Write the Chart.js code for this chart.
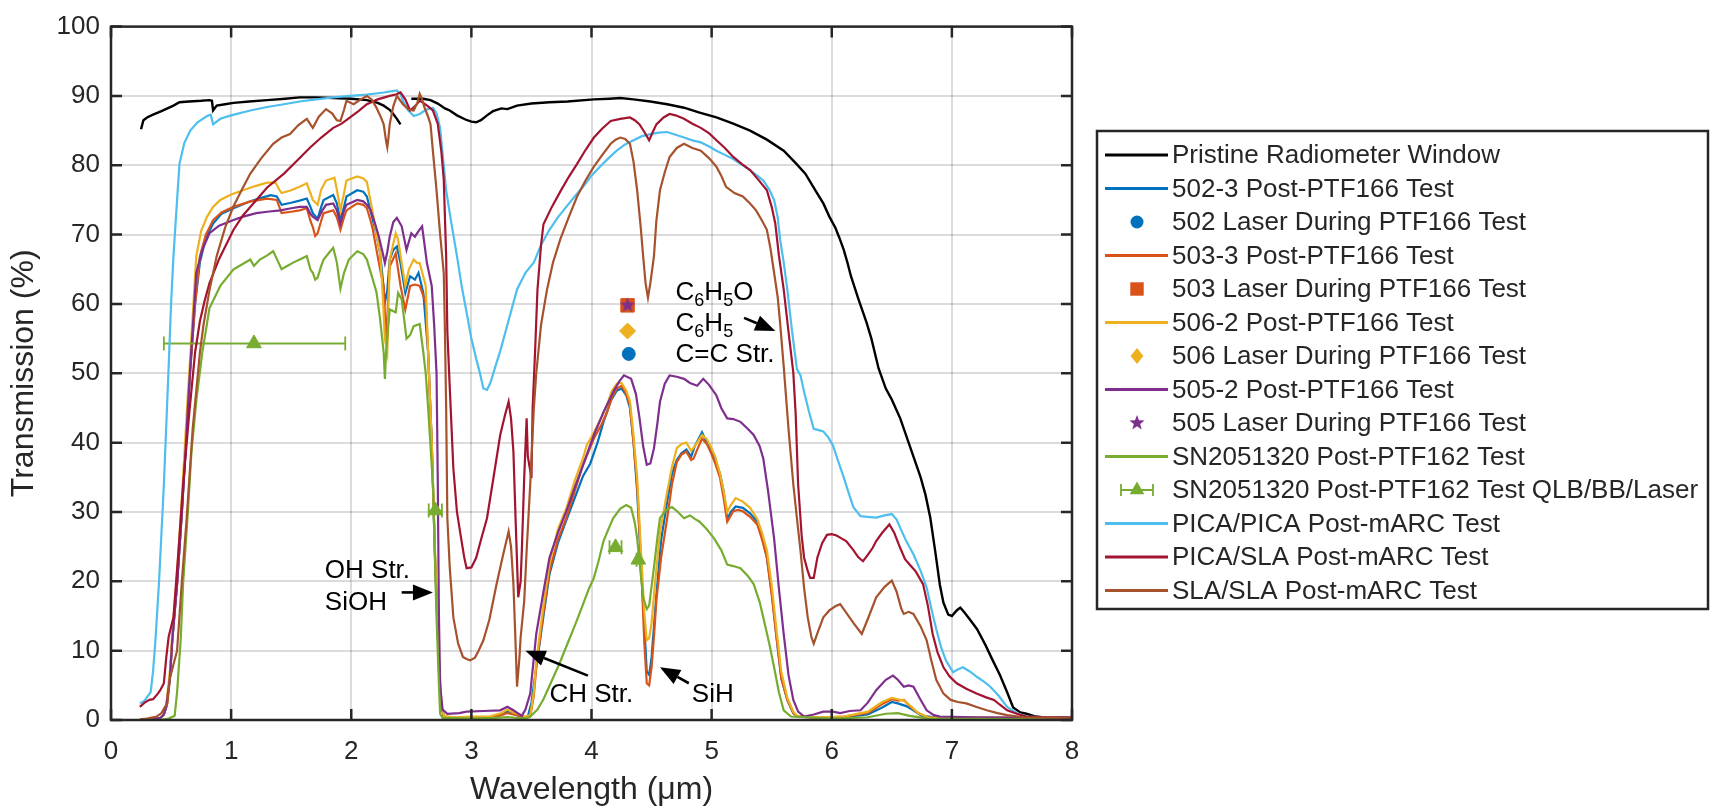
<!DOCTYPE html>
<html><head><meta charset="utf-8">
<script src="https://cdn.jsdelivr.net/npm/chart.js@4.4.1/dist/chart.umd.min.js"></script>
<style>html,body{margin:0;padding:0;background:#fff;overflow:hidden}#wrap{width:1711px;height:812px;position:relative}</style>
</head><body><div id="wrap"><canvas id="c" width="1711" height="812"></canvas></div>
<script>
// ---------- data (wavelength µm, transmission %) ----------
const xTicks = [0,1,2,3,4,5,6,7,8];
const yTicks = [0,10,20,30,40,50,60,70,80,90,100];

const pristineWindow = [[0.25,85.2],[0.27,86.5],[0.30,86.9],[0.35,87.3],[0.42,87.8],[0.52,88.6],[0.57,89.1],[0.65,89.2],[0.75,89.3],[0.82,89.4],[0.84,89.3],[0.85,87.9],[0.88,88.6],[0.95,88.8],[1.02,89.0],[1.15,89.2],[1.30,89.4],[1.45,89.6],[1.57,89.8],[1.70,89.8],[1.85,89.7],[2.0,89.6],[2.13,89.4],[2.22,89.0],[2.27,88.6],[2.32,88.0],[2.35,87.4],[2.38,86.7],[2.41,85.9],[2.45,null],
[2.50,89.6],[2.60,89.6],[2.66,89.4],[2.72,88.9],[2.78,88.2],[2.82,87.9],[2.88,87.2],[2.95,86.6],[3.00,86.3],[3.04,86.2],[3.08,86.5],[3.13,87.2],[3.18,87.8],[3.25,88.2],[3.30,88.1],[3.38,88.6],[3.50,88.9],[3.65,89.1],[3.80,89.2],[4.02,89.5],[4.15,89.6],[4.24,89.7],[4.35,89.5],[4.49,89.2],[4.63,88.8],[4.77,88.3],[4.90,87.6],[5.04,86.9],[5.18,86.0],[5.32,85.0],[5.46,83.7],[5.60,82.1],[5.70,80.3],[5.78,78.8],[5.87,76.2],[5.93,74.5],[5.98,72.6],[6.03,71.0],[6.06,69.7],[6.10,67.8],[6.13,66.0],[6.16,64.0],[6.22,60.8],[6.29,57.3],[6.33,55.0],[6.39,50.7],[6.45,47.8],[6.50,46.2],[6.57,43.5],[6.65,39.5],[6.74,35.0],[6.78,32.5],[6.82,29.2],[6.86,24.5],[6.90,19.5],[6.93,16.9],[6.97,15.2],[7.00,15.0],[7.04,15.8],[7.07,16.2],[7.10,15.6],[7.15,14.5],[7.21,13.1],[7.28,10.8],[7.34,8.6],[7.40,6.5],[7.46,4.0],[7.51,1.8],[7.57,1.1],[7.62,0.9],[7.70,0.5],[7.8,0.3],[8.0,0.3]];

const t502_3 = [[0.24,0],[0.35,0.1],[0.41,0.3],[0.44,0.8],[0.46,1.9],[0.49,6],[0.51,11.5],[0.55,19.6],[0.59,30],[0.62,38.7],[0.64,45],[0.66,50.6],[0.70,60],[0.74,66],[0.79,69.5],[0.85,71.6],[0.92,73],[1.02,73.8],[1.16,74.8],[1.25,75.3],[1.33,75.7],[1.38,75.5],[1.42,74.3],[1.50,74.6],[1.57,74.9],[1.63,75.2],[1.66,74.0],[1.68,73.1],[1.72,72.3],[1.75,74.0],[1.77,75.0],[1.85,75.7],[1.88,74.5],[1.91,72.1],[1.94,74.0],[1.96,75.5],[2.05,76.4],[2.10,76.2],[2.13,75.5],[2.18,72.1],[2.21,70.0],[2.24,67.3],[2.26,64.0],[2.28,60.2],[2.30,62.0],[2.32,66.4],[2.35,67.8],[2.38,68.3],[2.41,65.9],[2.45,61.6],[2.49,64.0],[2.53,63.5],[2.56,64.5],[2.60,61.6],[2.64,53.0],[2.67,40],[2.70,22],[2.73,8],[2.75,2],[2.77,0.5],[2.85,0.3],[3.0,0.4],[3.15,0.4],[3.25,0.8],[3.30,1.2],[3.35,0.9],[3.42,0.4],[3.47,0.5],[3.50,2.5],[3.54,7.6],[3.60,15.0],[3.65,21.0],[3.72,25.5],[3.79,28.8],[3.86,32.0],[3.93,35.2],[3.99,37.0],[4.05,40.0],[4.10,43.0],[4.16,46.0],[4.21,47.5],[4.25,47.8],[4.29,46.8],[4.32,45.0],[4.35,40.0],[4.38,33.0],[4.42,20.0],[4.46,7.0],[4.48,6.5],[4.50,9.0],[4.54,18.0],[4.58,26.0],[4.63,31.5],[4.67,35.5],[4.71,37.5],[4.75,38.5],[4.79,39.0],[4.83,38.0],[4.86,39.5],[4.92,41.5],[4.96,40.0],[4.99,39.2],[5.03,37.5],[5.07,35.5],[5.10,33.0],[5.13,29.0],[5.16,30.0],[5.20,30.8],[5.26,30.6],[5.32,29.8],[5.38,28.6],[5.43,26.0],[5.46,23.4],[5.50,18.5],[5.54,12.0],[5.58,6.0],[5.63,2.9],[5.68,1.0],[5.71,0.5],[5.9,0.3],[6.1,0.4],[6.3,0.8],[6.42,1.8],[6.50,2.6],[6.55,2.4],[6.62,2.0],[6.67,1.5],[6.75,0.6],[6.9,0.3],[8.0,0.2]];

const t503_3 = [[0.24,0],[0.35,0.1],[0.41,0.3],[0.44,0.8],[0.46,1.9],[0.49,6],[0.51,11.5],[0.55,19.6],[0.59,30],[0.62,38.7],[0.64,45],[0.66,50.6],[0.70,60],[0.74,66.9],[0.79,70],[0.85,72.1],[0.92,73.2],[1.02,74.0],[1.16,74.8],[1.30,75.2],[1.38,75.0],[1.42,73.1],[1.50,73.3],[1.57,73.5],[1.63,73.8],[1.66,72.0],[1.68,71.1],[1.70,69.8],[1.72,70.2],[1.75,72.0],[1.77,73.1],[1.85,73.5],[1.88,72.5],[1.91,70.7],[1.94,72.5],[1.96,73.5],[2.05,74.5],[2.10,74.3],[2.13,73.8],[2.16,72.1],[2.18,70.7],[2.21,67.8],[2.24,65.0],[2.27,62.6],[2.29,54.4],[2.30,58.0],[2.32,65.4],[2.37,67.3],[2.41,62.6],[2.45,59.2],[2.49,62.6],[2.53,62.8],[2.57,62.6],[2.62,60.2],[2.64,53.0],[2.67,40],[2.70,22],[2.73,8],[2.75,2],[2.77,0.5],[2.85,0.3],[3.0,0.4],[3.15,0.3],[3.25,0.7],[3.30,1.0],[3.35,0.8],[3.45,0.4],[3.49,0.5],[3.52,3.5],[3.54,7.6],[3.60,15.5],[3.65,21.5],[3.72,26.0],[3.79,29.1],[3.86,33.0],[3.93,36.8],[4.02,40.6],[4.08,42.5],[4.13,44.4],[4.17,46.5],[4.21,47.8],[4.25,48.2],[4.29,47.0],[4.32,45.4],[4.35,40.0],[4.38,33.9],[4.40,27.0],[4.42,19.6],[4.44,11.0],[4.46,5.3],[4.48,5.0],[4.50,7.6],[4.52,12.0],[4.54,17.2],[4.58,23.5],[4.63,29.1],[4.67,34.0],[4.71,37.2],[4.75,38.3],[4.79,38.7],[4.83,37.5],[4.85,37.7],[4.88,39.0],[4.92,40.6],[4.96,39.8],[4.99,38.7],[5.03,37.0],[5.07,34.9],[5.10,32.0],[5.13,28.6],[5.16,29.5],[5.18,30.1],[5.22,30.3],[5.26,30.1],[5.32,29.3],[5.38,28.2],[5.42,26.0],[5.46,23.4],[5.50,18.0],[5.54,11.9],[5.58,6.0],[5.63,2.9],[5.68,1.0],[5.71,0.5],[5.9,0.3],[6.1,0.5],[6.3,1.0],[6.42,2.3],[6.50,3.0],[6.55,2.8],[6.60,2.9],[6.65,2.0],[6.72,1.0],[6.8,0.4],[8.0,0.2]];

const t506_2 = [[0.24,0],[0.35,0.1],[0.41,0.3],[0.44,0.9],[0.46,2.2],[0.49,7],[0.51,12.5],[0.55,21],[0.59,32],[0.62,41],[0.64,47],[0.66,52.5],[0.71,66.9],[0.75,70.5],[0.80,72.6],[0.85,74.0],[0.91,75.0],[1.00,75.8],[1.10,76.4],[1.20,77.0],[1.30,77.5],[1.37,77.5],[1.40,76.5],[1.42,76.0],[1.50,76.4],[1.57,76.9],[1.63,77.4],[1.66,76.0],[1.68,75.0],[1.72,74.3],[1.75,76.5],[1.79,77.8],[1.86,78.2],[1.88,76.5],[1.91,73.5],[1.94,76.0],[1.96,77.8],[2.05,78.4],[2.10,78.1],[2.13,77.6],[2.18,73.1],[2.21,70.0],[2.24,67.4],[2.26,62.0],[2.28,54.9],[2.30,53.0],[2.32,66.4],[2.37,70.2],[2.39,69.3],[2.42,65.9],[2.45,62.6],[2.48,65.0],[2.52,66.4],[2.55,65.9],[2.57,65.9],[2.62,62.6],[2.64,53.0],[2.67,40],[2.70,23],[2.73,9],[2.75,2.5],[2.77,0.6],[2.85,0.4],[3.0,0.5],[3.15,0.5],[3.25,1.0],[3.30,1.5],[3.35,1.1],[3.45,0.5],[3.49,0.7],[3.52,4.0],[3.54,8.5],[3.60,16.5],[3.65,22.5],[3.72,27.5],[3.79,30.5],[3.86,34.5],[3.93,37.8],[3.96,39.6],[4.02,41.5],[4.08,43.5],[4.13,45.5],[4.17,47.5],[4.21,48.5],[4.25,48.6],[4.29,47.5],[4.32,46.0],[4.35,41.0],[4.38,35.0],[4.41,25.0],[4.44,15.5],[4.46,11.5],[4.48,11.8],[4.50,14.0],[4.53,20.0],[4.57,27.0],[4.62,32.0],[4.67,36.5],[4.71,39.2],[4.75,39.8],[4.79,40.0],[4.83,38.8],[4.86,39.5],[4.92,41.1],[4.96,40.5],[4.99,39.5],[5.03,38.0],[5.07,35.5],[5.10,33.0],[5.13,30.0],[5.16,31.0],[5.20,32.0],[5.26,31.5],[5.32,30.6],[5.38,29.0],[5.42,27.0],[5.46,24.5],[5.50,19.5],[5.54,13.0],[5.58,7.0],[5.63,3.2],[5.68,1.2],[5.71,0.6],[5.9,0.4],[6.1,0.5],[6.3,1.2],[6.42,2.6],[6.50,3.2],[6.55,3.0],[6.60,2.8],[6.65,2.1],[6.72,1.0],[6.8,0.4],[8.0,0.3]];

const t505_2 = [[0.24,0],[0.35,0.1],[0.41,0.3],[0.44,0.8],[0.46,1.9],[0.49,6],[0.51,11.5],[0.55,19.6],[0.59,30],[0.62,38.7],[0.64,45],[0.66,51],[0.71,64.5],[0.76,67.8],[0.82,70.2],[0.90,71.3],[1.02,72.1],[1.10,72.6],[1.21,73.1],[1.30,73.3],[1.41,73.5],[1.50,73.8],[1.57,74.0],[1.63,74.0],[1.66,73.0],[1.68,72.6],[1.72,72.1],[1.76,73.5],[1.79,74.3],[1.85,74.5],[1.88,73.5],[1.91,71.6],[1.94,73.5],[1.96,74.3],[2.05,75.0],[2.10,74.8],[2.13,74.3],[2.16,73.6],[2.20,71.5],[2.23,69.7],[2.26,67.5],[2.28,65.9],[2.30,67.5],[2.32,69.7],[2.35,71.8],[2.38,72.4],[2.42,71.2],[2.46,67.8],[2.50,70.2],[2.53,69.7],[2.56,70.5],[2.59,71.2],[2.63,65.9],[2.67,62.6],[2.69,57.0],[2.71,50.0],[2.72,35.0],[2.73,15.0],[2.74,5.0],[2.76,1.5],[2.80,0.9],[2.90,1.0],[2.96,1.2],[3.10,1.3],[3.24,1.4],[3.30,1.9],[3.35,1.4],[3.42,0.6],[3.45,1.5],[3.49,3.8],[3.54,12.4],[3.60,18.5],[3.65,23.4],[3.72,27.0],[3.79,30.1],[3.86,33.5],[3.93,36.8],[4.02,41.1],[4.10,44.4],[4.18,47.3],[4.23,48.8],[4.27,49.7],[4.33,49.2],[4.37,47.0],[4.40,43.5],[4.43,39.5],[4.46,36.8],[4.49,37.0],[4.52,39.2],[4.55,43.0],[4.57,45.9],[4.61,48.5],[4.65,49.7],[4.71,49.5],[4.77,49.2],[4.82,48.6],[4.88,48.2],[4.93,49.2],[4.98,48.3],[5.04,46.8],[5.08,45.0],[5.13,43.5],[5.18,43.4],[5.24,43.0],[5.30,42.0],[5.35,41.1],[5.40,39.5],[5.43,37.7],[5.47,33.0],[5.52,26.2],[5.56,19.0],[5.60,12.4],[5.64,6.5],[5.68,2.9],[5.72,1.2],[5.77,0.5],[5.85,0.8],[5.93,1.2],[6.01,1.2],[6.07,1.0],[6.15,1.3],[6.24,1.4],[6.30,2.5],[6.37,4.3],[6.45,5.8],[6.51,6.4],[6.55,5.8],[6.60,4.8],[6.64,5.0],[6.68,4.8],[6.73,3.2],[6.79,1.4],[6.85,0.7],[6.90,0.5],[7.2,0.4],[8.0,0.3]];

const sn2051320 = [[0.24,0],[0.40,0],[0.48,0.2],[0.53,0.6],[0.55,4],[0.58,11.5],[0.60,19.6],[0.64,30],[0.67,38.7],[0.71,46],[0.76,53],[0.82,59.4],[0.91,62.6],[1.02,65.0],[1.10,65.8],[1.16,66.4],[1.19,65.5],[1.24,66.4],[1.30,67.0],[1.35,67.6],[1.38,66.5],[1.42,65.0],[1.47,65.5],[1.52,66.0],[1.58,66.5],[1.63,66.9],[1.66,65.0],[1.68,64.5],[1.70,63.5],[1.72,63.8],[1.75,65.5],[1.77,66.4],[1.82,67.5],[1.85,68.1],[1.88,66.0],[1.91,62.2],[1.94,64.5],[1.98,66.4],[2.05,67.6],[2.10,67.2],[2.13,66.4],[2.18,63.5],[2.21,61.7],[2.24,57.8],[2.27,53.0],[2.28,49.2],[2.29,53.0],[2.32,59.2],[2.37,58.8],[2.39,61.6],[2.42,60.7],[2.46,55.0],[2.49,55.5],[2.52,56.8],[2.57,57.1],[2.60,53.0],[2.62,50.0],[2.64,45.0],[2.68,33.9],[2.71,14.8],[2.73,5],[2.74,0.9],[2.76,0.3],[3.0,0.2],[3.2,0.3],[3.3,0.4],[3.45,0.2],[3.49,0.5],[3.55,1.5],[3.60,3.0],[3.66,5.3],[3.73,8.0],[3.80,11.0],[3.87,14.0],[3.93,16.7],[3.98,19.0],[4.02,20.5],[4.06,23.0],[4.10,25.8],[4.14,27.5],[4.18,29.1],[4.24,30.5],[4.29,31.0],[4.33,30.6],[4.36,28.5],[4.38,26.2],[4.41,21.0],[4.43,17.7],[4.46,16.0],[4.48,16.5],[4.52,22.0],[4.55,26.5],[4.57,29.1],[4.62,30.3],[4.67,30.7],[4.72,30.0],[4.77,29.1],[4.82,29.5],[4.86,29.0],[4.90,28.6],[4.96,27.5],[5.02,26.2],[5.08,24.5],[5.13,22.4],[5.18,22.2],[5.24,21.9],[5.30,20.8],[5.35,19.6],[5.40,17.0],[5.43,14.8],[5.48,11.0],[5.52,7.6],[5.56,4.0],[5.60,1.4],[5.66,0.5],[6.0,0.2],[6.3,0.4],[6.45,0.9],[6.55,1.0],[6.65,0.6],[6.8,0.2],[8.0,0.1]];

const picaPica = [[0.24,2.4],[0.28,2.8],[0.30,3.3],[0.33,4.0],[0.35,7.0],[0.37,11.5],[0.40,20],[0.44,33.9],[0.48,51],[0.50,60],[0.52,66.9],[0.55,75],[0.57,80.2],[0.61,83.2],[0.66,85.0],[0.72,86.2],[0.80,87.1],[0.83,87.3],[0.85,85.9],[0.91,86.7],[1.0,87.2],[1.16,87.9],[1.30,88.4],[1.44,88.8],[1.57,89.2],[1.71,89.5],[1.85,89.8],[1.99,90.0],[2.13,90.2],[2.27,90.5],[2.38,90.8],[2.41,90.3],[2.43,89.3],[2.47,88.0],[2.52,87.1],[2.57,87.4],[2.62,88.0],[2.68,88.3],[2.71,87.5],[2.74,85.4],[2.77,80.0],[2.79,76.4],[2.83,72.0],[2.88,66.9],[2.92,62.5],[2.96,58.8],[3.00,55.0],[3.04,52.1],[3.07,50.1],[3.10,47.8],[3.13,47.6],[3.16,48.7],[3.20,51.0],[3.24,53.2],[3.30,57.0],[3.38,62.1],[3.45,64.5],[3.52,66.0],[3.58,68.5],[3.65,70.7],[3.72,72.5],[3.79,74.0],[3.86,75.5],[3.93,76.9],[4.00,78.5],[4.07,79.8],[4.14,81.0],[4.21,82.1],[4.28,83.0],[4.35,83.6],[4.42,84.2],[4.49,84.5],[4.56,84.7],[4.63,84.8],[4.70,84.4],[4.77,84.0],[4.84,83.6],[4.91,83.3],[4.98,82.7],[5.04,82.1],[5.11,81.5],[5.18,80.9],[5.25,80.1],[5.32,79.3],[5.38,78.5],[5.43,77.8],[5.48,76.5],[5.52,75.0],[5.55,72.5],[5.57,69.3],[5.60,66.0],[5.63,62.1],[5.67,56.0],[5.71,50.6],[5.74,49.7],[5.77,47.3],[5.81,44.5],[5.85,42.0],[5.89,41.8],[5.93,41.6],[5.97,40.8],[6.01,39.6],[6.05,37.5],[6.10,35.0],[6.14,32.8],[6.18,30.7],[6.24,29.4],[6.30,29.3],[6.37,29.2],[6.44,29.5],[6.50,29.7],[6.54,28.9],[6.57,27.7],[6.62,25.8],[6.68,23.9],[6.74,21.5],[6.79,19.1],[6.83,16.0],[6.87,13.1],[6.91,10.5],[6.95,8.6],[7.01,6.9],[7.05,7.3],[7.09,7.6],[7.15,7.0],[7.21,6.2],[7.27,5.5],[7.32,4.8],[7.39,3.5],[7.46,1.9],[7.54,1.0],[7.62,0.5],[7.8,0.4],[8.0,0.4]];

const picaSla = [[0.24,1.9],[0.28,2.5],[0.32,2.9],[0.35,3.0],[0.39,3.8],[0.41,4.3],[0.44,5.3],[0.46,9],[0.48,12],[0.52,14.8],[0.56,24],[0.60,33.9],[0.65,44],[0.70,53],[0.74,57.5],[0.78,60.5],[0.82,63],[0.90,66.5],[1.02,70.7],[1.10,72.8],[1.21,75],[1.30,76.8],[1.44,78.8],[1.55,80.7],[1.66,82.6],[1.75,84.0],[1.85,85.4],[1.92,86.0],[1.99,86.9],[2.06,87.8],[2.13,88.8],[2.22,89.5],[2.32,90.0],[2.37,90.2],[2.41,90.5],[2.45,89.5],[2.49,87.9],[2.53,88.5],[2.57,89.3],[2.60,89.0],[2.64,88.5],[2.68,87.9],[2.72,86.0],[2.75,82.0],[2.77,78.0],[2.79,66.9],[2.80,56.0],[2.82,48.0],[2.85,36.3],[2.88,30.0],[2.91,26.7],[2.94,23.5],[2.96,21.9],[3.00,22.0],[3.04,23.4],[3.08,26.0],[3.13,29.1],[3.18,34.5],[3.24,41.1],[3.28,44.0],[3.31,45.9],[3.33,43.5],[3.35,38.7],[3.37,28.0],[3.39,17.7],[3.41,20.0],[3.42,24.4],[3.44,35.0],[3.46,43.5],[3.47,38.0],[3.50,34.9],[3.51,45.0],[3.53,53.0],[3.55,62.0],[3.58,68.5],[3.60,71.5],[3.67,74.0],[3.74,76.2],[3.81,78.3],[3.88,80.2],[3.95,82.2],[4.02,84.0],[4.09,85.3],[4.16,86.4],[4.24,86.7],[4.32,86.9],[4.36,86.5],[4.40,85.9],[4.44,84.8],[4.48,83.6],[4.51,84.8],[4.54,85.9],[4.60,86.9],[4.65,87.4],[4.70,87.2],[4.77,86.7],[4.84,86.0],[4.91,85.4],[4.98,84.6],[5.04,83.6],[5.11,82.5],[5.18,81.2],[5.25,80.2],[5.32,79.3],[5.39,77.9],[5.46,76.4],[5.50,74.0],[5.53,71.6],[5.56,67.0],[5.60,62.1],[5.64,56.0],[5.68,50.1],[5.70,44.0],[5.72,34.0],[5.75,26.5],[5.77,23.4],[5.80,21.5],[5.82,20.5],[5.85,20.5],[5.88,23.4],[5.92,25.5],[5.96,26.7],[6.00,26.8],[6.04,26.6],[6.08,26.2],[6.12,25.8],[6.18,24.5],[6.22,23.5],[6.26,22.9],[6.30,23.8],[6.34,24.8],[6.37,25.8],[6.42,27.0],[6.48,28.2],[6.52,27.0],[6.57,24.8],[6.61,23.2],[6.65,22.4],[6.70,21.4],[6.76,19.6],[6.80,16.5],[6.84,12.4],[6.88,9.8],[6.93,7.6],[6.98,6.3],[7.04,5.3],[7.12,4.5],[7.21,3.8],[7.28,3.3],[7.35,2.9],[7.40,2.2],[7.46,1.4],[7.54,0.9],[7.62,0.5],[7.8,0.4],[8.0,0.4]];

const slaSla = [[0.24,0.1],[0.30,0.2],[0.38,0.5],[0.42,1.0],[0.45,1.9],[0.47,2.4],[0.49,6],[0.52,8],[0.55,10],[0.59,20],[0.63,29.1],[0.68,42],[0.74,53],[0.77,57],[0.82,62],[0.88,66.9],[0.95,71],[1.02,74.1],[1.09,76.5],[1.16,78.8],[1.25,81.0],[1.35,83.1],[1.42,84.0],[1.49,84.5],[1.56,85.8],[1.63,86.7],[1.66,85.9],[1.68,85.4],[1.73,87.0],[1.79,88.1],[1.84,87.5],[1.88,86.5],[1.91,86.4],[1.94,88.0],[1.96,89.3],[2.02,88.8],[2.08,89.5],[2.13,90.0],[2.17,89.5],[2.21,88.3],[2.25,86.8],[2.27,85.9],[2.29,83.5],[2.30,82.6],[2.31,84.0],[2.32,85.9],[2.35,88.5],[2.38,90.0],[2.43,88.8],[2.48,88.0],[2.52,87.9],[2.55,89.0],[2.57,90.3],[2.59,89.5],[2.61,88.3],[2.64,87.0],[2.66,85.9],[2.68,82.0],[2.71,76.4],[2.74,70.0],[2.77,64.5],[2.78,56.0],[2.79,45.0],[2.80,29.1],[2.82,22.0],[2.85,14.8],[2.89,11.0],[2.93,9.1],[2.96,8.8],[2.99,8.6],[3.03,9.0],[3.06,10.0],[3.10,11.5],[3.15,14.5],[3.21,19.6],[3.26,23.5],[3.31,27.2],[3.33,25.0],[3.35,19.6],[3.37,10.0],[3.38,4.8],[3.40,9.0],[3.41,11.9],[3.44,17.2],[3.46,24.4],[3.49,34.0],[3.52,45.0],[3.54,50.0],[3.58,57.0],[3.63,62.1],[3.68,66.0],[3.74,69.3],[3.81,72.5],[3.88,75.5],[3.95,77.8],[4.02,79.8],[4.09,81.5],[4.16,83.1],[4.20,83.7],[4.24,84.0],[4.28,83.8],[4.32,83.1],[4.35,80.5],[4.38,76.4],[4.41,71.0],[4.43,66.9],[4.45,63.0],[4.47,60.9],[4.49,63.0],[4.52,66.9],[4.54,72.0],[4.57,76.4],[4.61,79.0],[4.65,81.2],[4.71,82.5],[4.77,83.1],[4.84,82.5],[4.91,82.1],[4.98,81.0],[5.04,79.8],[5.08,78.5],[5.12,76.9],[5.19,76.0],[5.26,75.5],[5.32,74.5],[5.37,73.5],[5.42,72.0],[5.46,70.7],[5.49,68.0],[5.52,64.5],[5.55,61.0],[5.57,57.3],[5.60,51.0],[5.64,42.0],[5.68,34.0],[5.71,29.1],[5.74,24.4],[5.77,19.0],[5.80,14.8],[5.83,12.0],[5.85,11.0],[5.88,12.5],[5.93,14.8],[5.98,15.8],[6.03,16.4],[6.07,16.7],[6.12,15.5],[6.18,14.0],[6.25,12.4],[6.31,15.0],[6.37,17.7],[6.44,19.2],[6.50,20.1],[6.54,18.5],[6.58,16.0],[6.60,15.3],[6.64,15.6],[6.68,15.3],[6.74,13.5],[6.79,11.5],[6.83,8.5],[6.87,5.8],[6.93,3.8],[6.99,2.9],[7.05,2.6],[7.12,2.4],[7.20,1.9],[7.29,1.4],[7.38,1.0],[7.46,0.7],[7.6,0.4],[8.0,0.3]];

// laser points during PTF166
const laser502 = [[4.31,52.8]];
const laser503 = [[4.30,59.8]];
const laser506 = [[4.30,56.1]];
const laser505 = [[4.30,59.8]];
// QLB/BB/Laser points with horizontal error bars
const qlbX    = [1.19, 2.70, 4.20, 4.39];
const qlbY    = [54.3, 30.2, 24.9, 23.1];
const qlbXMin = [0.44, 2.645, 4.15, 4.375];
const qlbXMax = [1.95, 2.755, 4.25, 4.405];

const seriesNames = ['Pristine Radiometer Window','502-3 Post-PTF166 Test','502 Laser During PTF166 Test','503-3 Post-PTF166 Test','503 Laser During PTF166 Test','506-2 Post-PTF166 Test','506 Laser During PTF166 Test','505-2 Post-PTF166 Test','505 Laser During PTF166 Test','SN2051320 Post-PTF162 Test','SN2051320 Post-PTF162 Test QLB/BB/Laser','PICA/PICA Post-mARC Test','PICA/SLA Post-mARC Test','SLA/SLA Post-mARC Test'];

// ---------- styling ----------
const C = {black:'#000000', blue:'#0072BD', orange:'#D95319', yellow:'#EDB120', purple:'#7E2F8E', green:'#77AC30', cyan:'#4DBEEE', red:'#A2142F', brown:'#A5522D'};
const FONT = '"Liberation Sans", Arial, Helvetica, sans-serif';
const pts = a => a.map(p => ({x:p[0], y:p[1]}));

function makeStar(color, r){
  const s = Math.ceil(r*2+2), c = document.createElement('canvas');
  c.width = s; c.height = s;
  const g = c.getContext('2d'); g.fillStyle = color; g.beginPath();
  for (let i=0;i<10;i++){ const a=-Math.PI/2+i*Math.PI/5, rr=(i%2)?r*0.42:r; g.lineTo(s/2+rr*Math.cos(a), s/2+rr*Math.sin(a)); }
  g.closePath(); g.fill(); return c;
}
const starImg = makeStar(C.purple, 8);

function lineDS(i, data, color, w){
  return {label:seriesNames[i], data:pts(data), showLine:true, borderColor:color, backgroundColor:color, borderWidth:w||2.2, pointRadius:0, pointHoverRadius:0, tension:0, spanGaps:false, clip:4, order:14-i, kind:'line'};
}
function markDS(i, data, color, style, r){
  return {label:seriesNames[i], data:pts(data), showLine:false, borderColor:color, backgroundColor:color, pointStyle:style, pointRadius:r, borderWidth:1, order:14-i, clip:false, kind:'mark'};
}

const datasets = [
  lineDS(0, pristineWindow, C.black, 2.4),
  lineDS(1, t502_3, C.blue),
  markDS(2, laser502, C.blue, 'circle', 6.5),
  lineDS(3, t503_3, C.orange),
  markDS(4, laser503, C.orange, 'rect', 9.5),
  lineDS(5, t506_2, C.yellow),
  markDS(6, laser506, C.yellow, 'rectRot', 8),
  lineDS(7, t505_2, C.purple),
  markDS(8, laser505, C.purple, starImg, 8),
  lineDS(9, sn2051320, C.green),
  markDS(10, qlbX.map((x,k)=>[x,qlbY[k]]), C.green, 'triangle', 8.5),
  lineDS(11, picaPica, C.cyan),
  lineDS(12, picaSla, C.red),
  lineDS(13, slaSla, C.brown)
];

// ---------- plugins ----------
const errorBars = {
  id:'errorBars',
  beforeDatasetDraw(chart, args){
    if (args.index !== 10) return;
    const {ctx, scales:{x,y}} = chart;
    ctx.save(); ctx.strokeStyle = C.green; ctx.lineWidth = 1.8;
    qlbX.forEach((v,k)=>{
      const py = y.getPixelForValue(qlbY[k]);
      const a = x.getPixelForValue(qlbXMin[k]), b = x.getPixelForValue(qlbXMax[k]);
      ctx.beginPath(); ctx.moveTo(a,py); ctx.lineTo(b,py);
      ctx.moveTo(a,py-7); ctx.lineTo(a,py+7); ctx.moveTo(b,py-7); ctx.lineTo(b,py+7);
      ctx.stroke();
    });
    ctx.restore();
  }
};

function arrow(ctx, x1,y1,x2,y2){
  const ang = Math.atan2(y2-y1, x2-x1), hl = 20, hw = 8;
  const bx = x2 - hl*Math.cos(ang), by = y2 - hl*Math.sin(ang);
  ctx.beginPath(); ctx.moveTo(x1,y1); ctx.lineTo(bx,by); ctx.stroke();
  ctx.beginPath(); ctx.moveTo(x2,y2);
  ctx.lineTo(bx + hw*Math.sin(ang), by - hw*Math.cos(ang));
  ctx.lineTo(bx - hw*Math.sin(ang), by + hw*Math.cos(ang));
  ctx.closePath(); ctx.fill();
}
function subText(ctx, parts, x, y){
  let cx = x;
  parts.forEach(([t,sub])=>{
    ctx.font = (sub? '18px ':'26px ') + FONT;
    ctx.fillText(t, cx, sub? y+8 : y);
    cx += ctx.measureText(t).width;
  });
}
const annotationLabels = [
  {parts:[['C',0],['6',1],['H',0],['5',1],['O',0]], x:4.70, y:61.6},
  {parts:[['C',0],['6',1],['H',0],['5',1]], x:4.70, y:57.1},
  {parts:[['C=C Str.',0]], x:4.70, y:52.7},
  {parts:[['OH Str.',0]], x:1.78, y:21.5},
  {parts:[['SiOH',0]], x:1.78, y:16.9},
  {parts:[['CH Str.',0]], x:3.65, y:3.6},
  {parts:[['SiH',0]], x:4.835, y:3.6}
];
const annotationArrows = [[2.42,18.4,2.68,18.4],[5.27,58.0,5.53,56.1],[3.97,6.4,3.45,10.0],[4.81,5.3,4.57,7.6]];

const frameAndNotes = {
  id:'frameAndNotes',
  afterDatasetsDraw(chart){
    const {ctx, chartArea:{left,right,top,bottom}, scales:{x,y}} = chart;
    ctx.save();
    // annotations
    ctx.fillStyle = '#000'; ctx.strokeStyle = '#000'; ctx.lineWidth = 2.6;
    ctx.textBaseline = 'middle'; ctx.textAlign = 'left';
    annotationLabels.forEach(a => subText(ctx, a.parts, x.getPixelForValue(a.x), y.getPixelForValue(a.y)));
    annotationArrows.forEach(a => arrow(ctx, x.getPixelForValue(a[0]), y.getPixelForValue(a[1]), x.getPixelForValue(a[2]), y.getPixelForValue(a[3])));
    // box + inward ticks
    ctx.strokeStyle = '#262626'; ctx.lineWidth = 2.5; const L = 11;
    ctx.beginPath();
    xTicks.forEach(v=>{const p=x.getPixelForValue(v); ctx.moveTo(p,bottom); ctx.lineTo(p,bottom-L); ctx.moveTo(p,top); ctx.lineTo(p,top+L);});
    yTicks.forEach(v=>{const p=y.getPixelForValue(v); ctx.moveTo(left,p); ctx.lineTo(left+L,p); ctx.moveTo(right,p); ctx.lineTo(right-L,p);});
    ctx.stroke();
    ctx.strokeRect(left, top, right-left, bottom-top);
    ctx.restore();
  }
};

function drawMarker(ctx, ds, cx, cy){
  ctx.fillStyle = ds.backgroundColor; ctx.strokeStyle = ds.borderColor;
  const st = ds.pointStyle, r = ds.pointRadius;
  ctx.beginPath();
  if (st === 'circle'){ ctx.arc(cx,cy,r,0,Math.PI*2); }
  else if (st === 'rect'){ const s=r*Math.SQRT1_2; ctx.rect(cx-s,cy-s,2*s,2*s); }
  else if (st === 'rectRot'){ ctx.moveTo(cx,cy-r); ctx.lineTo(cx+r*0.8,cy); ctx.lineTo(cx,cy+r); ctx.lineTo(cx-r*0.8,cy); ctx.closePath(); }
  else if (st === 'triangle'){ ctx.moveTo(cx,cy-r); ctx.lineTo(cx+r*0.866,cy+r*0.5); ctx.lineTo(cx-r*0.866,cy+r*0.5); ctx.closePath(); }
  else { ctx.drawImage(st, cx-st.width/2, cy-st.height/2); return; }
  ctx.fill();
}

const boxLegend = {
  id:'boxLegend',
  afterDraw(chart){
    const ctx = chart.ctx;
    const bx = 1097, by = 131, bw = 611, bh = 478, row0 = 155, step = 33.5;
    ctx.save();
    ctx.fillStyle = '#fff'; ctx.fillRect(bx,by,bw,bh);
    ctx.strokeStyle = '#262626'; ctx.lineWidth = 2.5; ctx.strokeRect(bx,by,bw,bh);
    ctx.textBaseline = 'middle'; ctx.textAlign = 'left';
    chart.data.datasets.forEach((ds,i)=>{
      const cy = row0 + i*step;
      if (ds.kind === 'line'){
        ctx.strokeStyle = ds.borderColor; ctx.lineWidth = 3;
        ctx.beginPath(); ctx.moveTo(1105,cy); ctx.lineTo(1168,cy); ctx.stroke();
      } else {
        if (i === 10){
          ctx.strokeStyle = ds.borderColor; ctx.lineWidth = 1.8;
          ctx.beginPath(); ctx.moveTo(1121,cy); ctx.lineTo(1153,cy);
          ctx.moveTo(1121,cy-6); ctx.lineTo(1121,cy+6); ctx.moveTo(1153,cy-6); ctx.lineTo(1153,cy+6); ctx.stroke();
        }
        drawMarker(ctx, ds, 1137, cy);
      }
      ctx.fillStyle = '#262626'; ctx.font = '26px ' + FONT;
      ctx.fillText(ds.label, 1172, cy+1);
    });
    ctx.restore();
  }
};

new Chart(document.getElementById('c'), {
  type:'scatter',
  data:{datasets},
  options:{
    responsive:false, devicePixelRatio:1, animation:false,
    layout:{padding:{top:22, right:639, left:0, bottom:0}},
    plugins:{legend:{display:false}, tooltip:{enabled:false}},
    scales:{
      x:{type:'linear', min:0, max:8, afterBuildTicks:s=>{s.ticks = xTicks.map(v=>({value:v}));},
        ticks:{font:{size:26, family:FONT}, color:'#262626', padding:16, maxRotation:0},
        grid:{color:'rgba(0,0,0,0.14)', lineWidth:2, drawTicks:false}, border:{display:false},
        title:{display:true, text:'Wavelength (\u03BCm)', font:{size:32, family:FONT}, color:'#262626', padding:{top:0,bottom:3}},
        afterFit:s=>{s.height = 92;}},
      y:{type:'linear', min:0, max:100, afterBuildTicks:s=>{s.ticks = yTicks.map(v=>({value:v}));},
        ticks:{font:{size:26, family:FONT}, color:'#262626', padding:11},
        grid:{color:'rgba(0,0,0,0.14)', lineWidth:2, drawTicks:false}, border:{display:false},
        title:{display:true, text:'Transmission (%)', font:{size:32, family:FONT}, color:'#262626', padding:{top:5,bottom:0}},
        afterFit:s=>{s.width = 111;}}
    }
  },
  plugins:[errorBars, frameAndNotes, boxLegend]
});
</script></body></html>
